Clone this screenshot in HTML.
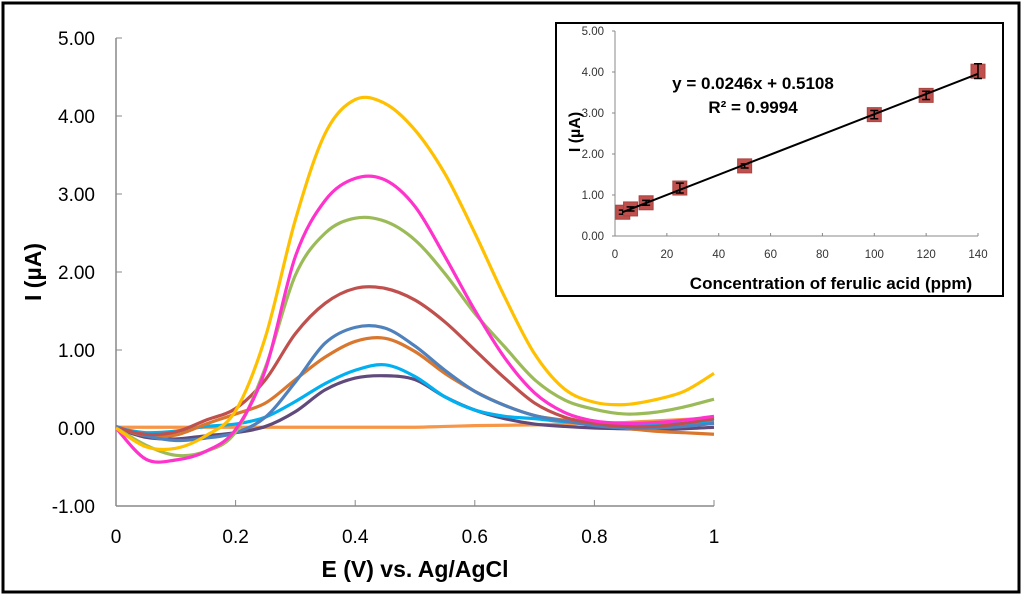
<!DOCTYPE html>
<html><head><meta charset="utf-8"><style>
html,body{margin:0;padding:0;background:#fff;}
svg{display:block;font-family:"Liberation Sans",Arial,sans-serif;}
</style></head><body>
<svg id="c" width="1024" height="597" viewBox="0 0 1024 597">
<rect x="3" y="3" width="1016" height="589" fill="#fff" stroke="#000" stroke-width="3"/>
<g id="main"></g>
<g id="inset"></g>
</svg>
<script>
const NS="http://www.w3.org/2000/svg";
const xTicks=[0,0.2,0.4,0.6,0.8,1];
const xTickLabels=["0","0.2","0.4","0.6","0.8","1"];
const yTicks=[-1,0,1,2,3,4,5];
const yTickLabels=["-1.00","0.00","1.00","2.00","3.00","4.00","5.00"];
const potentials=[0,0.05,0.1,0.15,0.2,0.25,0.3,0.35,0.4,0.45,0.5,0.55,0.6,0.65,0.7,0.75,0.8,0.85,0.9,0.95,1];
const seriesBlank=[0.01,0.01,0.01,0.01,0.01,0.01,0.01,0.01,0.01,0.01,0.01,0.02,0.03,0.035,0.04,0.05,0.06,0.07,0.09,0.11,0.13];
const seriesPurple=[0,-0.12,-0.14,-0.1,-0.06,0.02,0.21,0.49,0.64,0.67,0.62,0.4,0.23,0.12,0.05,0.02,0,-0.01,-0.02,-0.01,0.01];
const seriesCyan=[0,-0.06,-0.04,0.02,0.05,0.14,0.34,0.57,0.74,0.81,0.66,0.4,0.23,0.15,0.12,0.08,0.06,0.05,0.05,0.06,0.08];
const seriesBrown=[0.01,-0.1,-0.09,0.05,0.18,0.32,0.62,0.91,1.11,1.15,0.98,0.7,0.47,0.29,0.16,0.1,0.06,0,-0.04,-0.06,-0.08];
const seriesBlue=[0.02,-0.1,-0.16,-0.13,-0.06,0.14,0.59,1.09,1.29,1.28,1.05,0.74,0.47,0.29,0.16,0.09,0.03,0,0,0.02,0.06];
const seriesRed=[0,-0.08,-0.05,0.1,0.25,0.62,1.21,1.6,1.79,1.79,1.64,1.36,1.0,0.64,0.32,0.14,0.06,0.02,0.02,0.06,0.12];
const seriesGreen=[0,-0.22,-0.35,-0.3,-0.05,0.78,1.96,2.5,2.69,2.65,2.41,1.98,1.47,1.04,0.62,0.36,0.24,0.18,0.2,0.27,0.37];
const seriesMagenta=[0,-0.4,-0.41,-0.3,-0.02,0.75,2.2,2.92,3.2,3.18,2.84,2.2,1.51,0.9,0.45,0.2,0.09,0.06,0.07,0.1,0.15];
const seriesYellow=[0,-0.24,-0.26,-0.1,0.22,1.17,2.67,3.78,4.21,4.16,3.82,3.26,2.5,1.68,0.95,0.5,0.33,0.3,0.36,0.47,0.7];
const insetConc=[3,6,12,25,50,100,120,140];
const insetCurrent=[0.58,0.66,0.81,1.17,1.71,2.96,3.43,4.02];
const insetErr=[0.05,0.05,0.06,0.12,0.05,0.1,0.1,0.18];
const insetXTicks=[0,20,40,60,80,100,120,140];
const insetYTicks=[0,1,2,3,4,5];
const insetYLabels=["0.00","1.00","2.00","3.00","4.00","5.00"];
const slope=0.0246, intercept=0.5108;

function el(tag,attrs,parent,text){const e=document.createElementNS(NS,tag);for(const k in attrs)e.setAttribute(k,attrs[k]);if(text!==undefined)e.textContent=text;parent.appendChild(e);return e;}
const X=v=>116+v*598, Y=v=>428-v*78;
const m=document.getElementById('main');
let a=el('line',{x1:116,y1:38,x2:116,y2:506,stroke:'#888','stroke-width':1.5},m);

a=el('line',{x1:116,y1:506,x2:714,y2:506,stroke:'#888','stroke-width':1.5},m);

yTicks.forEach((t,i)=>{let k=el('line',{x1:116,y1:Y(t),x2:122,y2:Y(t),stroke:'#888'},m);

let l=el('text',{x:95,y:Y(t)+7,'text-anchor':'end','font-size':19},m,yTickLabels[i]);
});
xTicks.forEach((t,i)=>{let k=el('line',{x1:X(t),y1:500,x2:X(t),y2:506,stroke:'#888'},m);

let l=el('text',{x:X(t),y:543,'text-anchor':'middle','font-size':19},m,xTickLabels[i]);
});
let tt=el('text',{x:415,y:577,'text-anchor':'middle','font-size':23,'font-weight':'bold'},m,'E (V) vs. Ag/AgCl');

tt=el('text',{x:0,y:0,'text-anchor':'middle','font-size':23,'font-weight':'bold',transform:'translate(41,272) rotate(-90)'},m,'I (µA)');

function smooth(xs,ys){const p=xs.map((x,i)=>[X(x),Y(ys[i])]);let d=`M${p[0][0]},${p[0][1]}`;
for(let i=0;i<p.length-1;i++){const p0=p[i-1]||p[i],p1=p[i],p2=p[i+1],p3=p[i+2]||p2;
d+=` C${p1[0]+(p2[0]-p0[0])/6},${p1[1]+(p2[1]-p0[1])/6} ${p2[0]-(p3[0]-p1[0])/6},${p2[1]-(p3[1]-p1[1])/6} ${p2[0]},${p2[1]}`;}return d;}
const series=[[seriesBlank,'#F79646','curve-blank'],[seriesPurple,'#604A7B','curve-purple'],[seriesCyan,'#00B0F0','curve-cyan'],[seriesBrown,'#D9772F','curve-brown'],[seriesBlue,'#4F81BD','curve-blue'],[seriesRed,'#C0504D','curve-red'],[seriesGreen,'#9BBB59','curve-green'],[seriesMagenta,'#FF33CC','curve-magenta'],[seriesYellow,'#FFC000','curve-yellow']];
series.forEach(s=>{const p=el('path',{d:smooth(potentials,s[0]),fill:'none',stroke:s[1],'stroke-width':3.2},m);
});

const g=document.getElementById('inset');
const IX=v=>615+v*(363/140), IY=v=>236-v*41;
let r=el('rect',{x:556,y:23,width:447,height:273,fill:'#fff',stroke:'#000','stroke-width':2},g);

a=el('line',{x1:615,y1:31,x2:615,y2:236,stroke:'#888'},g);
a=el('line',{x1:615,y1:236,x2:978,y2:236,stroke:'#888'},g);
insetYTicks.forEach((t,i)=>{let k=el('line',{x1:612,y1:IY(t),x2:615,y2:IY(t),stroke:'#888'},g);
let l=el('text',{x:604,y:IY(t)+4,'text-anchor':'end','font-size':11.5,fill:'#333'},g,insetYLabels[i]);});
insetXTicks.forEach(t=>{let k=el('line',{x1:IX(t),y1:233,x2:IX(t),y2:236,stroke:'#888'},g);
let l=el('text',{x:IX(t),y:258,'text-anchor':'middle','font-size':11.5,fill:'#333'},g,String(t));});
tt=el('text',{x:831,y:289,'text-anchor':'middle','font-size':17,'font-weight':'bold'},g,'Concentration of ferulic acid (ppm)');
tt=el('text',{x:0,y:0,'text-anchor':'middle','font-size':16,'font-weight':'bold',transform:'translate(580,132) rotate(-90)'},g,'I (µA)');
insetConc.forEach((c,i)=>{const cx=IX(c),cy=IY(insetCurrent[i]);
let b=el('rect',{x:cx-7,y:cy-7,width:14,height:14,fill:'#C0504D',stroke:'#a84440'},g);
const e1=IY(insetCurrent[i]+insetErr[i]),e2=IY(insetCurrent[i]-insetErr[i]);
let e=el('path',{d:`M${cx},${e1}V${e2}M${cx-4},${e1}H${cx+4}M${cx-4},${e2}H${cx+4}`,stroke:'#000','stroke-width':1.5,fill:'none'},g);});
a=el('line',{x1:IX(3),y1:IY(slope*3+intercept),x2:IX(140),y2:IY(slope*140+intercept),stroke:'#000','stroke-width':2},g);
tt=el('text',{x:753,y:89,'text-anchor':'middle','font-size':17,'font-weight':'bold'},g,'y = 0.0246x + 0.5108');
tt=el('text',{x:753,y:113,'text-anchor':'middle','font-size':17,'font-weight':'bold'},g,'R² = 0.9994');
</script>
</body></html>
